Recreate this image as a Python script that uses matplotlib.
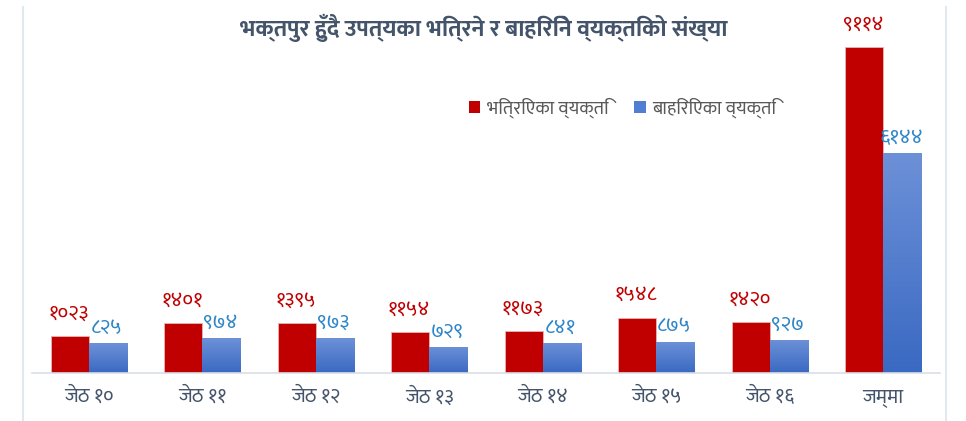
import numpy as np
import matplotlib
matplotlib.use("Agg")
import matplotlib.pyplot as plt
from matplotlib import font_manager as fm
from matplotlib.ft2font import FT2Font
from matplotlib.colors import LinearSegmentedColormap
from matplotlib.patches import Patch

# pick a font with Devanagari glyphs (prefer ones close to Nirmala UI)
names = {f.name for f in fm.fontManager.ttflist}
deva = None
for cand in ['Mukta', 'Noto Sans Devanagari', 'Biryani', 'Yantramanav', 'Hind']:
    if cand in names:
        deva = cand
        break
if deva is None:
    for f in fm.fontManager.ttflist:
        try:
            if 0x0915 in FT2Font(f.fname).get_charmap():
                deva = f.name
                break
        except Exception:
            pass
fams = ([deva] if deva else []) + ['Noto Sans', 'DejaVu Sans']
plt.rcParams['font.family'] = fams

categories = ['जेठ १०', 'जेठ ११', 'जेठ १२', 'जेठ १३', 'जेठ १४', 'जेठ १५', 'जेठ १६', 'जम्मा']
inbound = [1023, 1401, 1395, 1154, 1173, 1548, 1420, 9114]
outbound = [825, 974, 973, 729, 841, 875, 927, 6144]
series_names = ['भित्रिएका व्यक्ति', 'बाहिरिएका व्यक्ति']
title = 'भक्तपुर हुँदै उपत्यका भित्रने र बाहिरिने व्यक्तिको संख्या'

deva_digits = str.maketrans('0123456789', '०१२३४५६७८९')

red = '#C00000'
blue = '#4A78CF'
text_col = '#44546A'

fig = plt.figure(figsize=(9.66, 4.21), dpi=100)
ax = fig.add_axes([32/966, 1-373/421, 908/966, 363/421])

x = np.arange(len(categories))
w = 0.335
b1 = ax.bar(x - w/2, inbound, w, color=red, edgecolor='#E8B4B4', linewidth=0.6, zorder=2)
b2 = ax.bar(x + w/2, outbound, w, color=blue, edgecolor='#B7C8EA', linewidth=0.6, zorder=2)

# gradient fill on the blue bars
cmap = LinearSegmentedColormap.from_list('g', ['#3A69C2', '#6D91D8'])
grad = np.linspace(0, 1, 256).reshape(-1, 1)
for bar in b2:
    x0, y0 = bar.get_x(), bar.get_y()
    im = ax.imshow(grad, cmap=cmap, origin='lower', aspect='auto',
                   extent=[x0, x0 + bar.get_width(), y0, y0 + bar.get_height()], zorder=2.5)
    im.set_clip_path(bar)

for xi, v in zip(x, inbound):
    ax.annotate(str(v).translate(deva_digits), (xi - w/2, v), xytext=(-1, 9),
                textcoords='offset points', ha='center', va='bottom',
                fontsize=15, color=red)
for xi, v in zip(x, outbound):
    ax.annotate(str(v).translate(deva_digits), (xi + w/2, v), xytext=(-1, 4),
                textcoords='offset points', ha='center', va='bottom',
                fontsize=15, color='#2E86C8')

ax.set_xlim(-0.5, len(categories) - 0.5)
ax.set_ylim(0, 10150)
ax.set_yticks([])
ax.set_xticks(x)
ax.set_xticklabels(categories, fontsize=14.5, color=text_col)
ax.tick_params(axis='x', length=0, pad=10)
for s in ['top', 'right', 'left']:
    ax.spines[s].set_visible(False)
ax.spines['bottom'].set_color('#D9DEE6')
ax.spines['bottom'].set_linewidth(1.2)

# chart frame lines
fig.add_artist(plt.Line2D([23/966, 23/966], [0, 1-7/421], color='#E3E8EF', lw=1.5))
fig.add_artist(plt.Line2D([946/966, 946/966], [0, 1-7/421], color='#E3E8EF', lw=1.5))

fig.text(484/966, 1-28/421, title, ha='center', va='center',
         fontsize=17, fontweight='bold', color=text_col)

handles = [Patch(facecolor=red), Patch(facecolor='#4F7ED2')]
fig.legend(handles, series_names, loc='center left', bbox_to_anchor=(452/966, 1-108/421),
           ncol=2, frameon=False, fontsize=13.5, handlelength=0.6, handleheight=0.6,
           handletextpad=0.35, columnspacing=1.4, labelcolor='#595959')

fig.savefig('out.png', dpi=100)
